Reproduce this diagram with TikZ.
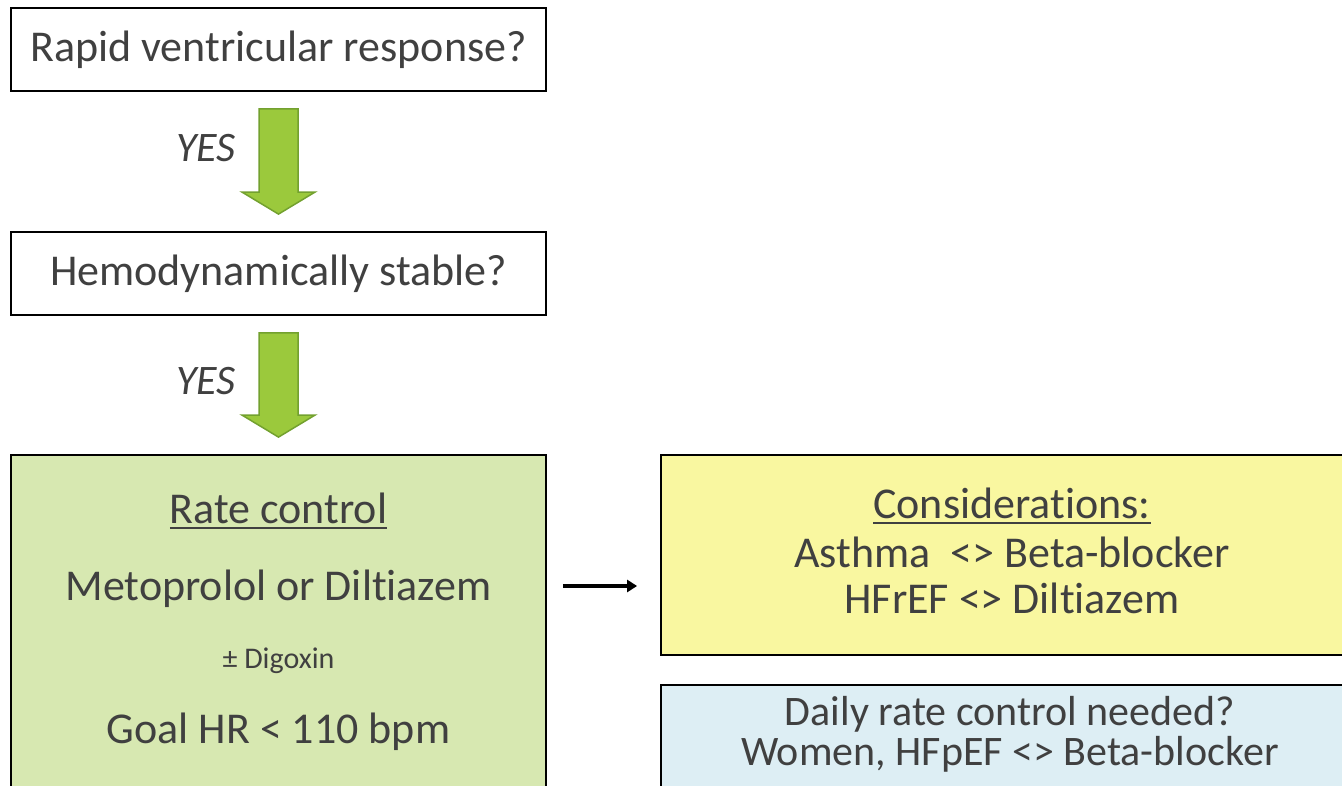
\documentclass[tikz,border=0pt]{standalone}
\usepackage{fontspec}
\setmainfont{Carlito}[RawFeature={-liga;-clig;-calt;-dlig}]
\usetikzlibrary{calc,arrows.meta}
\definecolor{txt}{HTML}{404040}
\definecolor{gfill}{HTML}{D7E8B1}
\definecolor{yfill}{HTML}{F9F7A0}
\definecolor{bfill}{HTML}{DDEEF4}
\definecolor{afill}{HTML}{9BC93C}
\definecolor{aline}{HTML}{73A12F}
\newcommand\myul[1]{\vtop{\hbox{#1}\kern4pt\hrule height 1.8pt}}
\tikzset{
  boxq/.style={draw=black, line width=1.8pt, fill=white, minimum width=535pt, minimum height=83pt,
    text=txt, font=\fontsize{44}{52}\selectfont, text height=28pt, text depth=3pt, inner sep=0pt},
  bigbox/.style={draw=black, line width=1.8pt, inner sep=0pt},
  tx/.style={text=txt, anchor=base, inner sep=0pt, font=\fontsize{#1}{#1}\selectfont},
  yes/.style={text=txt, inner sep=0pt, font=\fontsize{42}{48}\selectfont\itshape},
  garrow/.style={fill=afill, draw=aline, line width=1.5pt, line join=miter},
  smallarrow/.style={line width=3.2pt, -{Triangle[length=10pt,width=12pt]}}
}
\begin{document}
\begin{tikzpicture}[x=1pt,y=-1pt]
\useasboundingbox (0,0) rectangle (1342,786);
\clip (0,0) rectangle (1342,786);
\node[boxq] (q1) at (278.5,49.5) {Rapid ventricular response?};
\node[boxq] (q2) at (278.5,273.5) {Hemodynamically stable?};
\node[bigbox, fill=gfill, minimum width=535pt, minimum height=345pt] (rc) at (278.5,627.5) {};
\node[bigbox, fill=yfill, minimum width=702pt, minimum height=200pt] (cons) at (1012,555) {};
\node[bigbox, fill=bfill, minimum width=702pt, minimum height=115pt] (daily) at (1012,742.5) {};
% block arrows
\draw[garrow] let \p1=(q1.south), \p2=(q2.north) in
  (\x1-19.5pt,\y1-17pt) -- (\x1+19.5pt,\y1-17pt) -- (\x1+19.5pt,\y2+39pt) -- (\x1+36.5pt,\y2+39pt)
  -- (\x1,\y2+17pt) -- (\x1-36.5pt,\y2+39pt) -- (\x1-19.5pt,\y2+39pt) -- cycle;
\draw[garrow] let \p1=(q2.south), \p2=(rc.north) in
  (\x1-19.5pt,\y1-17pt) -- (\x1+19.5pt,\y1-17pt) -- (\x1+19.5pt,\y2+39pt) -- (\x1+36.5pt,\y2+39pt)
  -- (\x1,\y2+17pt) -- (\x1-36.5pt,\y2+39pt) -- (\x1-19.5pt,\y2+39pt) -- cycle;
\node[yes] (yes1) at (206,148) {YES};
\node[yes] (yes2) at (206,381) {YES};
% green box text
\node[tx=44] (rct) at (278.5,523) {\myul{Rate control}};
\node[tx=44] (met) at (278.5,600) {Metoprolol or Diltiazem};
\node[tx=30] (dig) at (278.5,668) {± Digoxin};
\node[tx=44] (goal) at (278.5,743) {Goal HR < 110 bpm};
% yellow box text
\node[tx=44] (c1) at (1012,518) {\myul{Considerations:}};
\node[tx=44] (c2) at (1012,567) {Asthma\ \ <> Beta-blocker};
\node[tx=44] (c3) at (1012,613) {HFrEF <> Diltiazem};
% blue box text
\node[tx=42] (d1) at (1010,725) {Daily rate control needed?};
\node[tx=42] (d2) at (1010,765) {Women, HFpEF <> Beta-blocker};
% small arrow
\draw[smallarrow] ([xshift=16pt]rc.east |- 0,586) -- ([xshift=-23pt]cons.west |- 0,586);
\end{tikzpicture}
\end{document}
